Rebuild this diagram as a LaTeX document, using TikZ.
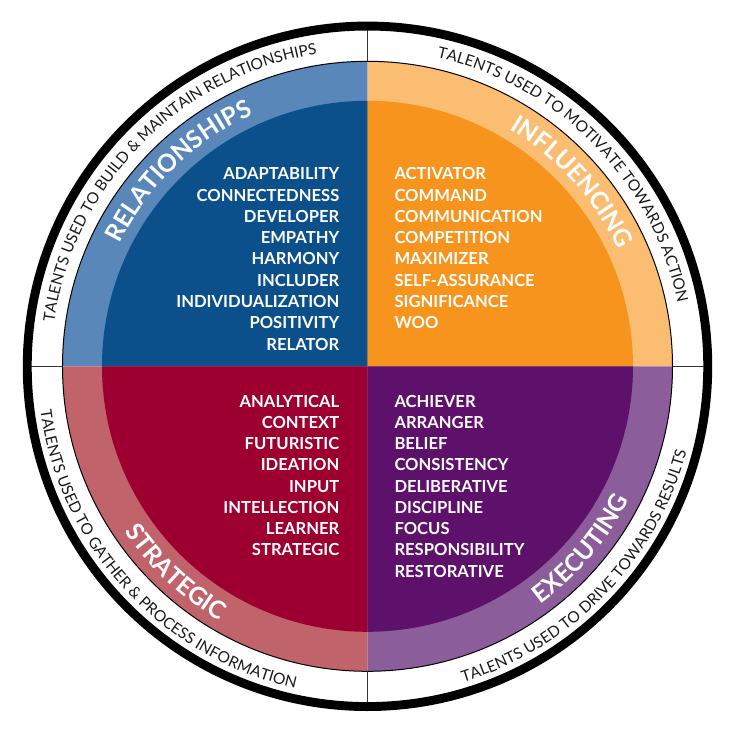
\documentclass[tikz,border=0pt]{standalone}
\usepackage{fontspec}
\setmainfont{Lato}
\usetikzlibrary{decorations.text}
\definecolor{dblue}{HTML}{0B4F8B}
\definecolor{lblue}{HTML}{5A87BA}
\definecolor{dorange}{HTML}{F7941D}
\definecolor{lorange}{HTML}{FBBD71}
\definecolor{dred}{HTML}{9D0030}
\definecolor{lred}{HTML}{C0636B}
\definecolor{dpurple}{HTML}{5D116A}
\definecolor{lpurple}{HTML}{8B5E9B}
\definecolor{bandtext}{HTML}{1A1A1A}
\newcommand{\catfont}{\bfseries\fontsize{24.6}{24.6}\selectfont\color{white}}
\newcommand{\bandfont}{\fontsize{15.5}{15.5}\selectfont\color{bandtext}}
\begin{document}
\begin{tikzpicture}[x=1pt,y=1pt,
  listfont/.style={inner sep=0pt, text=white, font=\bfseries\fontsize{16.6}{16.6}\selectfont},
  listR/.style={listfont, anchor=base east},
  listL/.style={listfont, anchor=base west},
  divider/.style={draw=black!80, line width=1.2pt}]
\useasboundingbox (-367.5,-369.7) rectangle (368.5,366.3);
% light bands
\fill[lblue]   (0,0) -- (90:305)  arc[start angle=90,  end angle=180, radius=305] -- cycle;
\fill[lorange] (0,0) -- (0:305)   arc[start angle=0,   end angle=90,  radius=305] -- cycle;
\fill[lred]    (0,0) -- (180:305) arc[start angle=180, end angle=270, radius=305] -- cycle;
\fill[lpurple] (0,0) -- (270:305) arc[start angle=270, end angle=360, radius=305] -- cycle;
% dark cores
\fill[dblue]   (0,0) -- (90:265.5)  arc[start angle=90,  end angle=180, radius=265.5] -- cycle;
\fill[dorange] (0,0) -- (0:265.5)   arc[start angle=0,   end angle=90,  radius=265.5] -- cycle;
\fill[dred]    (0,0) -- (180:265.5) arc[start angle=180, end angle=270, radius=265.5] -- cycle;
\fill[dpurple] (0,0) -- (270:265.5) arc[start angle=270, end angle=360, radius=265.5] -- cycle;
% thin circle and dividers
\draw[black, line width=1pt] (0,0) circle[radius=305];
\foreach \a in {0,90,180,270}
  \draw[divider] (\a:305) -- (\a:336);
% outer ring
\draw[black, line width=8.9pt] (0,0) circle[radius=340.25];
% category labels
\path[decorate, decoration={text along path, text align=center,
  text={|\catfont|RELATIONSHIPS}}]
  (194:276.5) arc[start angle=194, end angle=74, radius=276.5];
\path[decorate, decoration={text along path, text align=center,
  text={|\catfont|INFLUENCING}}]
  (102:276.5) arc[start angle=102, end angle=-18, radius=276.5];
\path[decorate, decoration={text along path, text align=center,
  text={|\catfont|STRATEGIC}}]
  (167:294) arc[start angle=167, end angle=287, radius=294];
\path[decorate, decoration={text along path, text align=center,
  text={|\catfont|EXECUTING}}]
  (259.5:294) arc[start angle=259.5, end angle=379.5, radius=294];
% band texts
\path[decorate, decoration={text along path, text align=center,
  text={|\bandfont|TALENTS USED TO BUILD {\&} MAINTAIN RELATIONSHIPS}}]
  (225.6:316.5) arc[start angle=225.6, end angle=45.6, radius=316.5];
\path[decorate, decoration={text along path, text align=center,
  text={|\bandfont|TALENTS USED TO MOTIVATE TOWARDS ACTION}}]
  (134.4:316.5) arc[start angle=134.4, end angle=-45.6, radius=316.5];
\path[decorate, decoration={text along path, text align=center,
  text={|\bandfont|TALENTS USED TO GATHER {\&} PROCESS INFORMATION}}]
  (132.5:330) arc[start angle=132.5, end angle=312.5, radius=330];
\path[decorate, decoration={text along path, text align=center,
  text={|\bandfont|TALENTS USED TO DRIVE TOWARDS RESULTS}}]
  (226:330) arc[start angle=226, end angle=406, radius=330];
% lists
\foreach \t [count=\i] in {ADAPTABILITY,CONNECTEDNESS,DEVELOPER,EMPATHY,HARMONY,INCLUDER,INDIVIDUALIZATION,POSITIVITY,RELATOR}
  \node[listR] (rel\i) at (-28, {186.3-21.25*(\i-1)}) {\t};
\foreach \t [count=\i] in {ACTIVATOR,COMMAND,COMMUNICATION,COMPETITION,MAXIMIZER,SELF-ASSURANCE,SIGNIFICANCE,WOO}
  \node[listL] (inf\i) at (26.8, {186.3-21.25*(\i-1)}) {\t};
\foreach \t [count=\i] in {ANALYTICAL,CONTEXT,FUTURISTIC,IDEATION,INPUT,INTELLECTION,LEARNER,STRATEGIC}
  \node[listR] (str\i) at (-28, {-40.7-21.25*(\i-1)}) {\t};
\foreach \t [count=\i] in {ACHIEVER,ARRANGER,BELIEF,CONSISTENCY,DELIBERATIVE,DISCIPLINE,FOCUS,RESPONSIBILITY,RESTORATIVE}
  \node[listL] (exe\i) at (26.8, {-40.7-21.25*(\i-1)}) {\t};
\end{tikzpicture}
\end{document}
